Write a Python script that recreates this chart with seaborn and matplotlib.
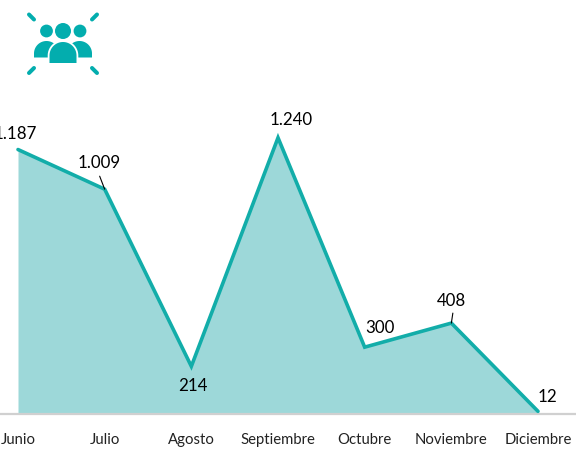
import matplotlib
matplotlib.use("Agg")
import matplotlib.pyplot as plt
import seaborn as sns
import pandas as pd
import numpy as np
from matplotlib.patches import Circle, Polygon

months = ["Junio", "Julio", "Agosto", "Septiembre", "Octubre", "Noviembre", "Diciembre"]
values = [1187, 1009, 214, 1240, 300, 408, 12]
labels = ["1.187", "1.009", "214", "1.240", "300", "408", "12"]

TEAL = "#12ADA9"
FILL = "#9DD8D9"

sns.set_theme(style="white")
plt.rcParams["font.family"] = ["Lato", "DejaVu Sans"]

W, H = 576, 449
fig = plt.figure(figsize=(W / 100, H / 100), dpi=100, facecolor="white")
base_px = 414
ax = fig.add_axes([0, 1 - base_px / H, 1, base_px / H])
df = pd.DataFrame({"mes": np.arange(len(months)), "valor": values})

ax.fill_between(df["mes"], 0, df["valor"], color=FILL, linewidth=0, zorder=1)
sns.lineplot(data=df, x="mes", y="valor", ax=ax, color=TEAL, linewidth=2.6, zorder=3,
             solid_joinstyle="miter", solid_capstyle="round")

ax.set_xlim(-18 / 86.67, (576 - 18) / 86.67)
ax.set_ylim(0, 414 / 0.2228)
ax.set_xlabel("")
ax.set_ylabel("")
ax.set_yticks([])
ax.set_xticks(df["mes"], months, fontsize=10.7, color="#222222")
ax.tick_params(axis="x", length=0, pad=13.5)
for s in ["top", "left", "right"]:
    ax.spines[s].set_visible(False)
ax.spines["bottom"].set_color("#D0D0D0")
ax.spines["bottom"].set_linewidth(1.6)
ax.patch.set_alpha(0)

# label offsets in pixels relative to each point (dx, dy up)
offsets = [(-3, 16), (-6, 26), (2, -20), (13, 18), (15, 19), (0, 22), (9, 14)]
for i, (v, t, (dx, dy)) in enumerate(zip(values, labels, offsets)):
    ax.annotate(t, (i, v), xytext=(dx * 0.72, dy * 0.72), textcoords="offset points",
                ha="center", va="center", fontsize=12.2, color="black", annotation_clip=False)

# leader lines for Julio and Noviembre
for i, (dx, dy) in {1: (-5, 13), 5: (1.5, 10)}.items():
    ax.annotate("", (i, values[i]), xytext=(dx * 0.72, dy * 0.72), textcoords="offset points",
                arrowprops=dict(arrowstyle="-", color="black", lw=0.8, shrinkA=0, shrinkB=0))

# icon, in pixel coordinates (y grows downward)
ov = fig.add_axes([0, 0, 1, 1])
ov.set_xlim(0, W)
ov.set_ylim(H, 0)
ov.axis("off")
ICON = "#03ADAE"


def dome(cx, cy, r, bottom):
    t = np.linspace(np.pi, 2 * np.pi, 40)
    pts = np.column_stack([cx + r * np.cos(t), cy + r * np.sin(t)])
    return np.vstack([pts, [cx + r, bottom], [cx - r, bottom]])


for cx, r in [(46.5, 6.4), (80, 6.4), (63, 8.0)]:
    ov.add_patch(Circle((cx, 31), r, fc=ICON, ec="none"))

for cx in (46.5, 79.5):
    ov.add_patch(Polygon(dome(cx, 53.5, 12.5, 57.5), closed=True, fc=ICON, ec="none"))
ov.add_patch(Polygon(dome(63, 55.5, 15.3, 64), closed=True, fc="white", ec="none"))
ov.add_patch(Polygon(dome(63, 55.5, 13.5, 63), closed=True, fc=ICON, ec="none"))

for (a, b) in [((29, 14.5), (34, 19.5)), ((97, 14.5), (92, 19.5)),
               ((29, 73), (34, 68)), ((97, 73), (92, 68))]:
    ov.plot([a[0], b[0]], [a[1], b[1]], color=ICON, lw=2.9, solid_capstyle="round")

fig.savefig("out.png", dpi=100, facecolor="white")
